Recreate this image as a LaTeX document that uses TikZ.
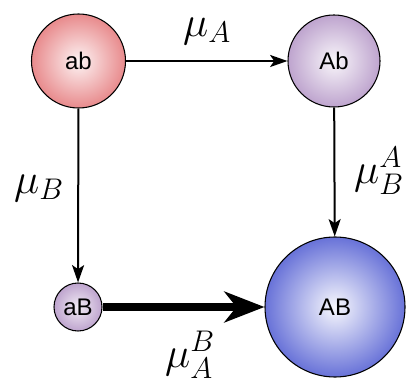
\RequirePackage{fix-cm}
\documentclass[tikz,border=0pt]{standalone}
\usepackage{amsmath,amssymb}
\usepackage{fontspec}
\setsansfont{Liberation Sans}
\usepackage{xcolor}
\usepackage{tikz}
\usetikzlibrary{shapes,arrows.meta,positioning,calc}
\definecolor{ballred}{RGB}{232,138,140}
\definecolor{balllilac}{RGB}{190,164,206}
\definecolor{ballblue}{RGB}{104,114,216}

\begin{document}
\begin{tikzpicture}[x=0.75pt, y=-0.75pt,
    geno/.style={circle, draw=black, line width=0.8pt, inner sep=0pt, font=\sffamily\fontsize{18}{21}\selectfont},
    rate/.style={font=\fontsize{32}{36}\selectfont, inner sep=0pt},
    flow/.style={-{Stealth[length=13pt, width=9pt, inset=3pt]}, line width=1.5pt}
]
    \useasboundingbox (0,0) rectangle (406,384);

    \node[geno, minimum size=70.5pt, inner color=ballred!10, outer color=ballred] (ab) at (78.5,61) {ab};
    \node[geno, minimum size=69pt, inner color=balllilac!10, outer color=balllilac] (Ab) at (334,61) {Ab};
    \node[geno, minimum size=36pt, inner color=balllilac!20, outer color=balllilac] (aB) at (78,307) {aB};
    \node[geno, minimum size=105pt, inner color=ballblue!5, outer color=ballblue] (AB) at (335,307) {AB};

    \draw[flow] (ab) -- (Ab);
    \draw[flow] (ab) -- (aB);
    \draw[flow] (Ab) -- (AB);
    \draw[-{Stealth[length=30pt, width=23pt, inset=9pt]}, line width=5.5pt] (aB) -- (AB);

    \node[rate] (muA) at (207,31) {$\mu_A$};
    \node[rate] (muB) at (39,188) {$\mu_B$};
    \node[rate] (muBA) at (379,171) {$\mu_B^A$};
    \node[rate] (muAB) at (190,355) {$\mu_A^B$};
\end{tikzpicture}
\end{document}
